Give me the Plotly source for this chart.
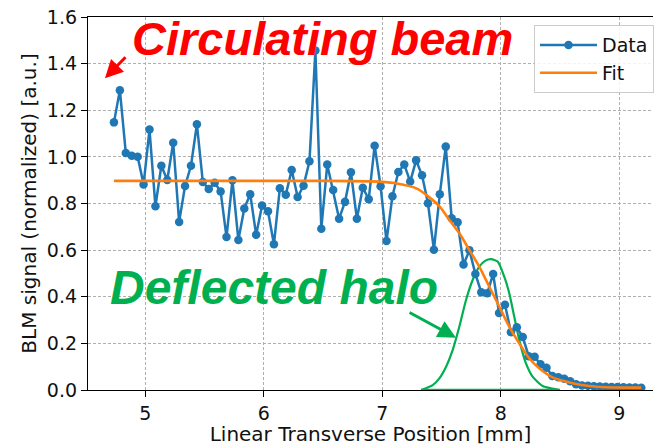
import plotly.graph_objects as go

# ---- data ----
pos_mm = [4.735, 4.785, 4.835, 4.885, 4.935, 4.985, 5.035, 5.085, 5.135, 5.185,
          5.235, 5.285, 5.335, 5.385, 5.435, 5.485, 5.535, 5.585, 5.635, 5.685,
          5.735, 5.785, 5.835, 5.885, 5.935, 5.985, 6.035, 6.085, 6.135, 6.185,
          6.235, 6.285, 6.335, 6.385, 6.435, 6.485, 6.535, 6.585, 6.635, 6.685,
          6.735, 6.785, 6.835, 6.885, 6.935, 6.985, 7.035, 7.085, 7.135, 7.185,
          7.235, 7.285, 7.335, 7.385, 7.435, 7.485, 7.535, 7.585, 7.635, 7.685,
          7.735, 7.785, 7.835, 7.885, 7.935, 7.985, 8.035, 8.085, 8.135, 8.185,
          8.235, 8.285, 8.335, 8.385, 8.435, 8.485, 8.535, 8.585, 8.635, 8.685,
          8.735, 8.785, 8.835, 8.885, 8.935, 8.985, 9.035, 9.085, 9.135, 9.185]
blm_signal = [1.148, 1.286, 1.017, 1.005, 1.001, 0.882, 1.117, 0.788, 0.962, 0.901,
              1.061, 0.721, 0.875, 0.962, 1.140, 0.892, 0.862, 0.889, 0.852, 0.656,
              0.900, 0.643, 0.779, 0.840, 0.666, 0.791, 0.767, 0.625, 0.865, 0.838,
              0.944, 0.828, 0.876, 0.981, 1.456, 0.692, 0.967, 0.858, 0.735, 0.807,
              0.934, 0.735, 0.868, 0.818, 1.048, 0.874, 0.639, 0.831, 0.935, 0.967,
              0.894, 0.985, 0.921, 0.801, 0.602, 0.840, 1.044, 0.737, 0.720, 0.538,
              0.599, 0.498, 0.419, 0.415, 0.498, 0.330, 0.366, 0.248, 0.269, 0.227,
              0.145, 0.143, 0.110, 0.095, 0.060, 0.055, 0.048, 0.038, 0.025, 0.019,
              0.018, 0.016, 0.015, 0.014, 0.013, 0.013, 0.012, 0.011, 0.011, 0.010]

fit_x = [4.735, 5.5, 6.5, 6.9, 7.1, 7.3, 7.481, 7.566, 7.650, 7.734, 7.818, 7.903,
         7.987, 8.071, 8.155, 8.239, 8.324, 8.436, 8.605, 8.745, 8.886, 9.185]
fit_y = [0.897, 0.897, 0.897, 0.895, 0.888, 0.862, 0.789, 0.729, 0.672, 0.601, 0.529, 0.443,
         0.357, 0.272, 0.200, 0.136, 0.093, 0.054, 0.029, 0.017, 0.012, 0.010]

halo_x = [7.327, 7.425, 7.481, 7.538, 7.594, 7.650, 7.706, 7.762, 7.818, 7.870, 7.917,
          7.973, 8.029, 8.071, 8.113, 8.155, 8.212, 8.268, 8.352, 8.436, 8.498]
halo_y = [0.0, 0.021, 0.050, 0.100, 0.172, 0.272, 0.386, 0.472, 0.529, 0.555, 0.561,
          0.551, 0.486, 0.415, 0.315, 0.215, 0.114, 0.057, 0.017, 0.006, 0.0]

x_ticks = [5, 6, 7, 8, 9]
y_ticks = [0.0, 0.2, 0.4, 0.6, 0.8, 1.0, 1.2, 1.4, 1.6]

BLUE = "#1f77b4"
ORANGE = "#ff7f0e"
GREEN = "#00b050"
RED = "#ff0000"

fig = go.Figure()
fig.add_trace(go.Scatter(x=halo_x, y=halo_y, mode="lines", showlegend=False,
                         line=dict(color=GREEN, width=2.2, shape="spline", smoothing=0.6)))
fig.add_trace(go.Scatter(x=[halo_x[0], halo_x[-1]], y=[halo_y[0], halo_y[-1]], mode="lines",
                         showlegend=False, line=dict(color=GREEN, width=2.5)))
fig.add_trace(go.Scatter(x=pos_mm, y=blm_signal, mode="lines+markers", name="Data",
                         line=dict(color=BLUE, width=2.5),
                         marker=dict(color=BLUE, size=8.5)))
fig.add_trace(go.Scatter(x=fit_x, y=fit_y, mode="lines", name="Fit",
                         line=dict(color=ORANGE, width=2.6, shape="spline", smoothing=0.6)))

tick_font = dict(family="DejaVu Sans", size=19, color="#111111")
title_font = dict(family="DejaVu Sans", size=20, color="#111111")

fig.update_layout(
    width=654, height=446,
    margin=dict(l=88, r=0, t=17, b=56),
    paper_bgcolor="white", plot_bgcolor="white",
    legend=dict(x=0.79, y=0.978, xanchor="left", yanchor="top",
                font=dict(family="DejaVu Sans", size=19, color="#111111"),
                bgcolor="rgba(255,255,255,0.85)", bordercolor="#cccccc", borderwidth=1,
                itemwidth=57, tracegroupgap=2),
    xaxis=dict(range=[4.516, 9.284], tickvals=x_ticks, ticktext=[str(v) for v in x_ticks],
               showline=True, linecolor="black", linewidth=1.3, mirror=True,
               ticks="outside", ticklen=6, tickcolor="black",
               showgrid=True, gridcolor="#b0b0b0", gridwidth=1, griddash="3px,2px",
               zeroline=False, tickfont=tick_font,
               title=dict(text="Linear Transverse Position [mm]", font=title_font, standoff=7)),
    yaxis=dict(range=[0, 1.6], tickvals=y_ticks, ticktext=[f"{v:.1f}" for v in y_ticks],
               showline=True, linecolor="black", linewidth=1.3,
               ticks="outside", ticklen=6, tickcolor="black",
               showgrid=True, gridcolor="#b0b0b0", gridwidth=1, griddash="3px,2px",
               zeroline=False, tickfont=tick_font,
               title=dict(text="BLM signal (normalized) [a.u.]", font=title_font, standoff=4)),
)

big_font = dict(family="Liberation Sans", size=47, weight="bold", style="italic")
fig.add_annotation(xref="paper", yref="paper", x=0.074, y=0.942, xanchor="left", yanchor="middle",
                   text="Circulating beam", showarrow=False, font=dict(**big_font, color=RED))
fig.add_annotation(xref="paper", yref="paper", x=0.035, y=0.274, xanchor="left", yanchor="middle",
                   text="Deflected halo", showarrow=False,
                   font=dict(family="Liberation Sans", size=48, weight="bold", style="italic",
                             color=GREEN))
fig.add_annotation(xref="paper", yref="paper", x=0.030, y=0.8357, text="", showarrow=True,
                   ax=22, ay=-22.6, arrowhead=2, arrowsize=1.2, arrowwidth=3,
                   arrowcolor=RED, standoff=0)
fig.add_annotation(xref="paper", yref="paper", x=0.6514, y=0.1402, text="", showarrow=True,
                   ax=-48, ay=-26, arrowhead=2, arrowsize=1.2, arrowwidth=3,
                   arrowcolor=GREEN, standoff=0)

fig.write_html("out.html")
